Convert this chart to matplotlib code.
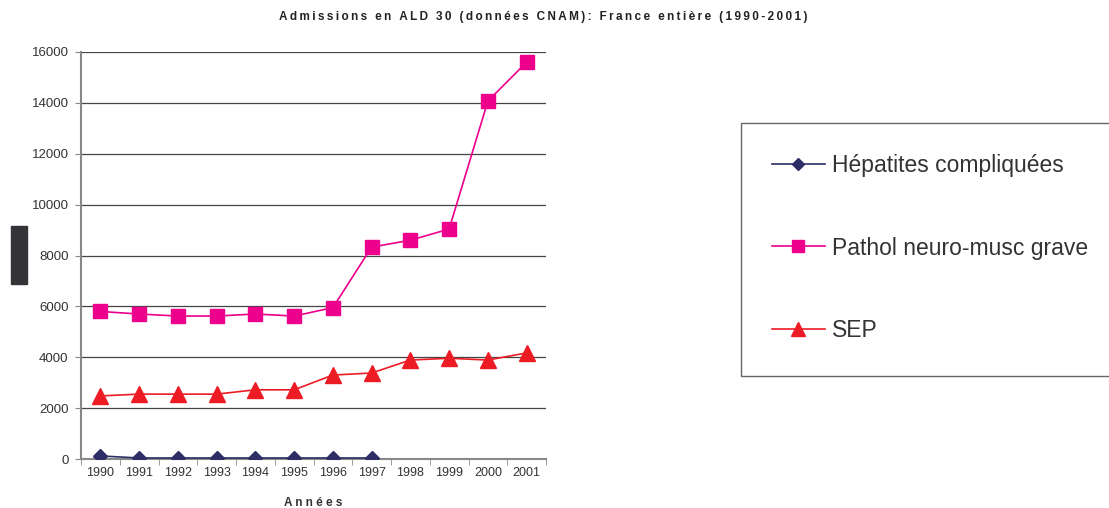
import matplotlib.pyplot as plt
from matplotlib.patches import Rectangle

# données
annees = ['1990', '1991', '1992', '1993', '1994', '1995', '1996', '1997', '1998', '1999', '2000', '2001']
hepatites = [120, 40, 40, 40, 40, 40, 40, 40]
neuro_musc = [5800, 5700, 5620, 5620, 5700, 5620, 5950, 8330, 8600, 9040, 14070, 15600]
sep = [2480, 2550, 2550, 2550, 2720, 2720, 3300, 3380, 3890, 3960, 3890, 4170]

titre = 'Admissions en ALD 30 (données CNAM): France entière (1990-2001)'

plt.rcParams["font.family"] = ["Liberation Sans", "DejaVu Sans"]

fig = plt.figure(figsize=(11.09, 5.08), dpi=100)
ax = fig.add_axes([81 / 1109, 1 - 459 / 508, 465 / 1109, 407 / 508])

x = list(range(len(annees)))
ax.plot(x[:len(hepatites)], hepatites, marker='D', color='#2E2E66', linewidth=1.2,
        markersize=7, label='Hépatites compliquées', zorder=3)
ax.plot(x, neuro_musc, marker='s', color='#EC008C', linewidth=1.2,
        markersize=10, label='Pathol neuro-musc grave', zorder=3)
ax.plot(x, sep, marker='^', color='#ED1C24', linewidth=1.2,
        markersize=11, label='SEP', zorder=3)

ax.set_xlim(-0.5, 11.5)
ax.set_ylim(0, 16000)
ax.set_yticks(range(0, 16001, 2000))
ax.set_xticks(x)
ax.set_xticklabels(annees)
ax.set_xticks([i - 0.5 for i in range(13)], minor=True)
ax.tick_params(axis='x', which='major', length=0, pad=6, labelsize=9, labelcolor='#333333')
ax.tick_params(axis='x', which='minor', length=4, color='#888888', direction='out')
ax.tick_params(axis='y', length=4, color='#888888', labelsize=9.5, labelcolor='#333333', pad=5)

ax.grid(axis='y', color='#444444', linewidth=0.9)
ax.set_axisbelow(True)
for s in ['top', 'right']:
    ax.spines[s].set_visible(False)
ax.spines['left'].set_color('#888888')
ax.spines['left'].set_linewidth(1.5)
ax.spines['bottom'].set_color('#888888')
ax.spines['bottom'].set_linewidth(1.5)

ax.set_xlabel('A n n é e s', fontsize=8.5, fontweight='bold', color='#333333', labelpad=13)

# titre légèrement espacé
fig.text(0.49, 1 - 17 / 508, '\u2009'.join(titre),
         ha='center', va='center', fontsize=8.5, fontweight='bold', color='#222222')

# rectangle sombre à gauche
fig.patches.append(Rectangle((11 / 1109, 1 - 284 / 508), 16 / 1109, 58 / 508,
                             transform=fig.transFigure, color='#333338'))

# cadre de la légende
fig.patches.append(Rectangle((741 / 1109, 1 - 376 / 508), 400 / 1109, 253 / 508,
                             transform=fig.transFigure, fill=False,
                             edgecolor='#666666', linewidth=1))

leg = fig.legend(loc='center left', bbox_to_anchor=(772 / 1109, 1 - 248 / 508),
                 frameon=False, fontsize=16.5, labelspacing=2.58, handlelength=2.3,
                 handletextpad=0.3, borderpad=0, borderaxespad=0, markerscale=0.9)
for t in leg.get_texts():
    t.set_color('#333333')

fig.savefig('out.png', dpi=100)
